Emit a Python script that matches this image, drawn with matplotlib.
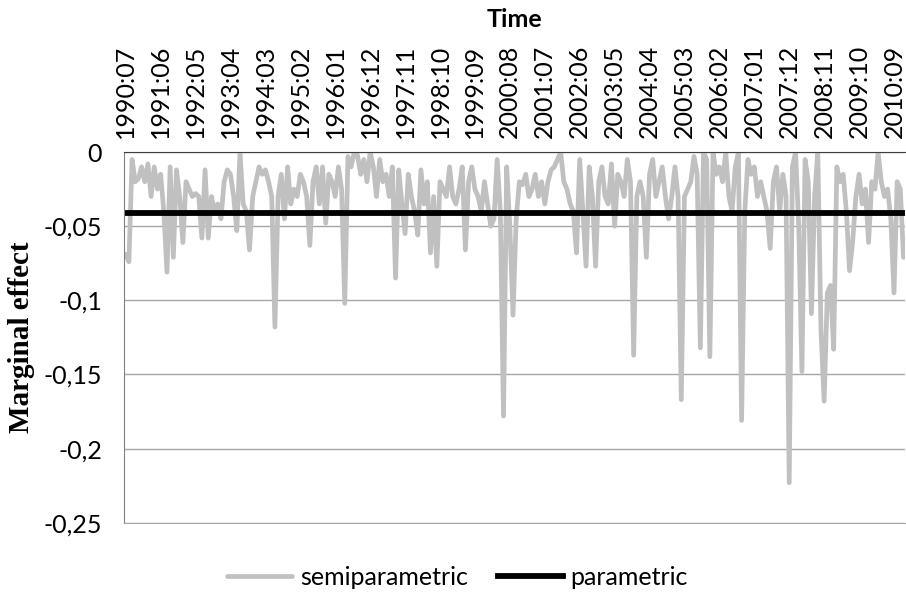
import numpy as np
import matplotlib
matplotlib.use("Agg")
import matplotlib.pyplot as plt

# monthly marginal effects, 1990:07 .. 2010:12
semiparametric = [
    -0.069, -0.074, -0.005, -0.020, -0.018, -0.010, -0.020, -0.008, -0.030, -0.010, -0.025, -0.015,
    -0.040, -0.081, -0.010, -0.071, -0.012, -0.030, -0.061, -0.020, -0.025, -0.030, -0.028, -0.030,
    -0.058, -0.012, -0.058, -0.030, -0.040, -0.035, -0.045, -0.020, -0.012, -0.015, -0.030, -0.053,
    0.000, -0.035, -0.040, -0.066, -0.030, -0.020, -0.010, -0.015, -0.012, -0.020, -0.030, -0.118,
    -0.030, -0.015, -0.045, -0.010, -0.035, -0.025, -0.030, -0.015, -0.020, -0.030, -0.063, -0.020,
    -0.010, -0.035, -0.010, -0.048, -0.015, -0.020, -0.030, -0.010, -0.025, -0.102, -0.003, -0.010,
    0.000, -0.002, -0.015, -0.005, -0.020, 0.000, -0.010, -0.030, -0.005, -0.020, -0.015, -0.030,
    -0.010, -0.085, -0.012, -0.035, -0.055, -0.015, -0.030, -0.040, -0.056, -0.012, -0.035, -0.020,
    -0.068, -0.030, -0.077, -0.020, -0.025, -0.030, -0.010, -0.030, -0.035, -0.025, -0.010, -0.066,
    -0.020, -0.010, -0.025, -0.030, -0.040, -0.020, -0.035, -0.050, -0.045, -0.005, -0.040, -0.178,
    -0.010, -0.050, -0.110, -0.045, -0.020, -0.022, -0.015, -0.030, -0.025, -0.015, -0.030, -0.020,
    -0.035, -0.020, -0.012, -0.010, -0.005, 0.000, -0.020, -0.025, -0.035, -0.040, -0.068, -0.005,
    -0.040, -0.077, -0.010, -0.030, -0.077, -0.020, -0.010, -0.030, -0.035, -0.008, -0.050, -0.015,
    -0.020, -0.030, -0.005, -0.020, -0.137, -0.030, -0.020, -0.030, -0.071, -0.015, -0.005, -0.030,
    -0.020, -0.010, -0.030, -0.045, -0.030, -0.010, -0.030, -0.167, -0.030, -0.025, -0.020, -0.003,
    -0.015, -0.132, 0.000, -0.005, -0.138, 0.000, -0.015, -0.010, -0.020, 0.000, -0.030, -0.040,
    -0.010, 0.000, -0.181, -0.040, -0.005, -0.015, -0.010, -0.030, -0.020, -0.030, -0.040, -0.065,
    -0.020, -0.010, -0.040, -0.015, -0.030, -0.223, -0.010, 0.000, -0.050, -0.148, -0.005, -0.020,
    -0.109, -0.030, 0.000, -0.120, -0.168, -0.095, -0.090, -0.133, -0.010, -0.020, -0.015, -0.040,
    -0.080, -0.060, -0.030, -0.015, -0.035, -0.025, -0.061, -0.020, -0.025, 0.000, -0.020, -0.030,
    -0.025, -0.045, -0.095, -0.020, -0.025, -0.071,
]
parametric = -0.041
start_year, start_month = 1990, 7
tick_step = 11

n = len(semiparametric)
x = np.arange(n)
labels = []
for i in range(0, n, tick_step):
    m = start_month - 1 + i
    labels.append(f"{start_year + m // 12}:{m % 12 + 1:02d}")

fs = 18
fig = plt.figure(figsize=(9.06, 5.94), dpi=100)
ax = fig.add_axes([0.137, 0.12, 0.862, 0.624])

ax.plot(x, semiparametric, color="#c0c0c0", lw=3.4, label="semiparametric",
        solid_joinstyle="round", solid_capstyle="round")
ax.plot(x, np.full(n, parametric), color="black", lw=4.2, label="parametric")

ax.set_xlim(-0.5, n - 0.5)
ax.set_ylim(-0.25, 0)
yt = np.arange(-0.25, 0.001, 0.05)
ax.set_yticks(yt)
ax.set_yticklabels([("%g" % abs(round(v, 2)) if abs(v) < 1e-9 else "%g" % round(v, 2)).replace(".", ",")
                    for v in yt], fontsize=fs, family="Lato")
ax.yaxis.grid(True, color="#a6a6a6", lw=1)
ax.set_axisbelow(True)
ax.tick_params(axis="y", length=0, pad=16)

ax.xaxis.tick_top()
ax.xaxis.set_label_position("top")
ax.set_xticks(x[::tick_step])
ax.set_xticklabels(labels, rotation=90, fontsize=fs, family="Lato")
ax.tick_params(axis="x", length=0, pad=10)
ax.set_xlabel("Time", fontsize=fs, family="Lato", fontweight="bold", labelpad=13)
ax.set_ylabel("Marginal effect", fontsize=21, family="Liberation Serif",
              fontweight="bold", labelpad=6)

ax.spines["right"].set_visible(False)
ax.spines["bottom"].set_color("#a6a6a6")
ax.spines["top"].set_color("#404040")
ax.spines["left"].set_color("#808080")

fig.legend(loc="center", bbox_to_anchor=(0.505, 0.028), ncol=2, frameon=False,
           prop={"family": "Lato", "size": fs}, handlelength=2.6,
           columnspacing=1.2, handletextpad=0.3)

fig.savefig("out.png", dpi=100)
